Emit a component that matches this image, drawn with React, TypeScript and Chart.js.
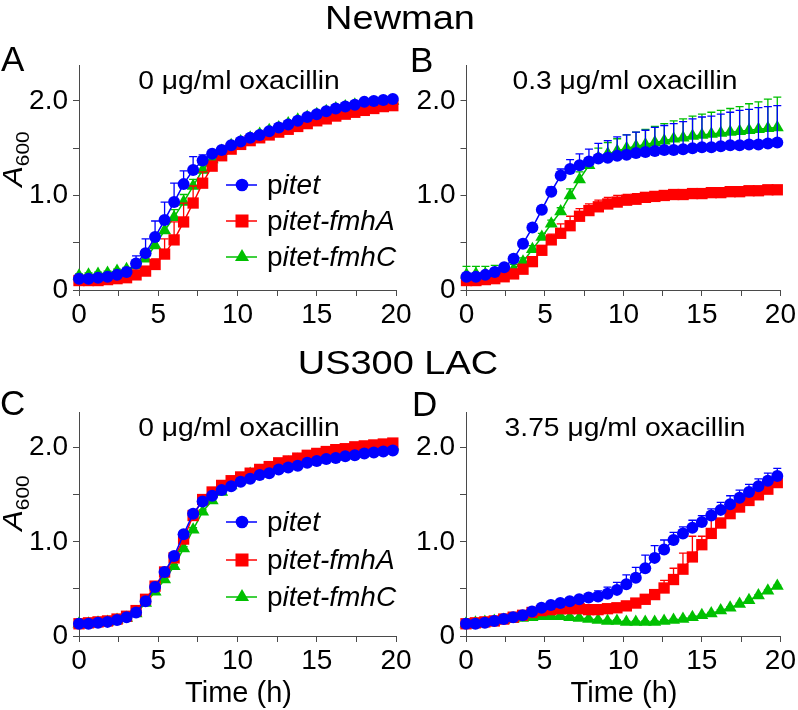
import React, { useEffect, useRef } from 'react';
import { Chart, registerables } from 'chart.js';

Chart.register(...registerables);

const FONT = '"Liberation Sans", Arial, Helvetica, sans-serif';
const BLUE = '#0000ff';
const RED = '#ff0000';
const GREEN = '#00c000';
const AXIS = '#4a4a4a';

// sampling times (h)
const TIMES = [0, 0.6, 1.2, 1.8, 2.4, 3.0, 3.6, 4.2, 4.8, 5.4, 6.0, 6.6, 7.2, 7.8, 8.4, 9.0, 9.6, 10.2, 10.8, 11.4, 12.0, 12.6, 13.2, 13.8, 14.4, 15.0, 15.6, 16.2, 16.8, 17.4, 18.0, 18.6, 19.2, 19.8];
const X_TICK_LABELS = [0, 5, 10, 15, 20];
const Y_TICK_LABELS = [0, 1, 2];
const Y_MAX = 2.38;
const SERIES_NAMES = ['pitet', 'pitet-fmhA', 'pitet-fmhC'];

// Panel A – Newman, 0 µg/ml
const A_PITET = [0.12, 0.12, 0.13, 0.14, 0.16, 0.19, 0.28, 0.39, 0.56, 0.74, 0.93, 1.12, 1.27, 1.37, 1.44, 1.48, 1.53, 1.57, 1.61, 1.64, 1.68, 1.72, 1.75, 1.79, 1.83, 1.86, 1.89, 1.92, 1.94, 1.96, 1.99, 2.00, 2.01, 2.02];
const A_PITET_ERR = [0.02, 0.02, 0.02, 0.02, 0.02, 0.03, 0.08, 0.15, 0.17, 0.19, 0.20, 0.14, 0.14, 0.06, 0.03, 0.03, 0.02, 0.02, 0.02, 0.02, 0.02, 0.02, 0.02, 0.02, 0.02, 0.02, 0.02, 0.02, 0.02, 0.02, 0.02, 0.02, 0.02, 0.02];
const A_FMHA = [0.10, 0.10, 0.10, 0.11, 0.12, 0.13, 0.16, 0.20, 0.27, 0.38, 0.53, 0.72, 0.92, 1.13, 1.31, 1.42, 1.49, 1.54, 1.58, 1.61, 1.64, 1.67, 1.70, 1.73, 1.76, 1.79, 1.81, 1.84, 1.86, 1.88, 1.90, 1.92, 1.94, 1.95];
const A_FMHA_ERR = [0.02, 0.02, 0.02, 0.02, 0.02, 0.02, 0.02, 0.03, 0.06, 0.16, 0.19, 0.20, 0.18, 0.12, 0.05, 0.02, 0.02, 0.02, 0.02, 0.02, 0.02, 0.02, 0.02, 0.02, 0.02, 0.02, 0.02, 0.02, 0.02, 0.02, 0.02, 0.02, 0.02, 0.02];
const A_FMHC = [0.15, 0.16, 0.17, 0.18, 0.20, 0.22, 0.26, 0.33, 0.47, 0.63, 0.77, 0.93, 1.10, 1.27, 1.38, 1.47, 1.53, 1.57, 1.61, 1.65, 1.69, 1.72, 1.76, 1.80, 1.83, 1.86, 1.89, 1.92, 1.94, 1.96, 1.97, 1.98, 1.99, 2.00];
const A_FMHC_ERR = [0.02, 0.02, 0.02, 0.02, 0.02, 0.02, 0.02, 0.03, 0.06, 0.07, 0.08, 0.08, 0.07, 0.05, 0.02, 0.02, 0.02, 0.02, 0.02, 0.02, 0.02, 0.02, 0.02, 0.02, 0.02, 0.02, 0.02, 0.02, 0.02, 0.02, 0.02, 0.02, 0.02, 0.02];

// Panel B – Newman, 0.3 µg/ml
const B_PITET = [0.14, 0.14, 0.16, 0.19, 0.24, 0.33, 0.49, 0.66, 0.85, 1.04, 1.21, 1.28, 1.32, 1.36, 1.39, 1.40, 1.42, 1.43, 1.45, 1.46, 1.47, 1.48, 1.48, 1.49, 1.50, 1.51, 1.51, 1.52, 1.53, 1.53, 1.54, 1.54, 1.55, 1.56];
const B_PITET_ERR = [0.03, 0.03, 0.03, 0.03, 0.03, 0.03, 0.03, 0.03, 0.03, 0.05, 0.07, 0.10, 0.12, 0.13, 0.16, 0.18, 0.20, 0.21, 0.22, 0.23, 0.25, 0.26, 0.28, 0.29, 0.31, 0.32, 0.33, 0.34, 0.35, 0.37, 0.37, 0.39, 0.39, 0.39];
const B_FMHA = [0.10, 0.10, 0.11, 0.12, 0.14, 0.17, 0.22, 0.30, 0.42, 0.53, 0.60, 0.68, 0.78, 0.84, 0.88, 0.91, 0.93, 0.95, 0.96, 0.98, 0.99, 1.00, 1.01, 1.01, 1.02, 1.02, 1.03, 1.03, 1.04, 1.04, 1.05, 1.05, 1.06, 1.06];
const B_FMHA_ERR = [0.02, 0.02, 0.02, 0.02, 0.02, 0.02, 0.02, 0.02, 0.04, 0.06, 0.10, 0.10, 0.08, 0.07, 0.07, 0.07, 0.07, 0.06, 0.06, 0.05, 0.04, 0.04, 0.04, 0.04, 0.04, 0.04, 0.04, 0.04, 0.04, 0.04, 0.04, 0.04, 0.04, 0.04];
const B_FMHC = [0.16, 0.17, 0.17, 0.18, 0.19, 0.22, 0.30, 0.43, 0.56, 0.70, 0.83, 1.00, 1.17, 1.32, 1.40, 1.44, 1.47, 1.50, 1.52, 1.54, 1.56, 1.58, 1.60, 1.61, 1.63, 1.64, 1.65, 1.66, 1.67, 1.68, 1.69, 1.70, 1.71, 1.72];
const B_FMHC_ERR = [0.09, 0.08, 0.08, 0.08, 0.07, 0.05, 0.04, 0.04, 0.04, 0.04, 0.04, 0.07, 0.08, 0.08, 0.10, 0.12, 0.13, 0.14, 0.15, 0.16, 0.17, 0.18, 0.19, 0.20, 0.21, 0.22, 0.23, 0.24, 0.25, 0.26, 0.28, 0.29, 0.31, 0.32];

// Panel C – US300 LAC, 0 µg/ml
const C_PITET = [0.13, 0.13, 0.14, 0.15, 0.17, 0.20, 0.25, 0.37, 0.52, 0.68, 0.85, 1.08, 1.30, 1.43, 1.49, 1.55, 1.59, 1.64, 1.67, 1.71, 1.73, 1.77, 1.79, 1.81, 1.84, 1.86, 1.88, 1.89, 1.91, 1.92, 1.94, 1.95, 1.96, 1.97];
const C_PITET_ERR = [0.02, 0.02, 0.02, 0.02, 0.02, 0.02, 0.02, 0.02, 0.02, 0.02, 0.02, 0.02, 0.02, 0.02, 0.02, 0.02, 0.02, 0.02, 0.02, 0.02, 0.02, 0.02, 0.02, 0.02, 0.02, 0.02, 0.02, 0.02, 0.02, 0.02, 0.02, 0.02, 0.02, 0.02];
const C_FMHA = [0.13, 0.14, 0.15, 0.16, 0.18, 0.21, 0.27, 0.39, 0.53, 0.68, 0.83, 1.03, 1.28, 1.45, 1.53, 1.60, 1.65, 1.69, 1.73, 1.77, 1.80, 1.84, 1.86, 1.89, 1.92, 1.94, 1.96, 1.98, 1.99, 2.01, 2.02, 2.03, 2.04, 2.05];
const C_FMHA_ERR = [0.02, 0.02, 0.02, 0.02, 0.02, 0.02, 0.02, 0.02, 0.02, 0.02, 0.02, 0.02, 0.02, 0.02, 0.02, 0.02, 0.02, 0.02, 0.02, 0.02, 0.02, 0.02, 0.02, 0.02, 0.02, 0.02, 0.02, 0.02, 0.02, 0.02, 0.02, 0.02, 0.02, 0.02];
const C_FMHC = [0.13, 0.13, 0.14, 0.15, 0.17, 0.19, 0.24, 0.35, 0.47, 0.60, 0.74, 0.93, 1.13, 1.32, 1.44, 1.53, 1.60, 1.66, 1.72, 1.75, 1.78, 1.81, 1.84, 1.87, 1.89, 1.91, 1.93, 1.95, 1.96, 1.98, 1.99, 2.00, 2.01, 2.02];
const C_FMHC_ERR = [0.02, 0.02, 0.02, 0.02, 0.02, 0.02, 0.02, 0.02, 0.02, 0.02, 0.02, 0.02, 0.02, 0.02, 0.02, 0.02, 0.02, 0.02, 0.02, 0.02, 0.02, 0.02, 0.02, 0.02, 0.02, 0.02, 0.02, 0.02, 0.02, 0.02, 0.02, 0.02, 0.02, 0.02];

// Panel D – US300 LAC, 3.75 µg/ml
const D_PITET = [0.13, 0.13, 0.14, 0.16, 0.18, 0.20, 0.22, 0.26, 0.30, 0.33, 0.35, 0.37, 0.39, 0.41, 0.42, 0.45, 0.49, 0.55, 0.62, 0.72, 0.83, 0.92, 1.02, 1.09, 1.15, 1.21, 1.28, 1.34, 1.40, 1.47, 1.53, 1.59, 1.65, 1.70];
const D_PITET_ERR = [0.02, 0.02, 0.02, 0.02, 0.02, 0.02, 0.02, 0.02, 0.02, 0.02, 0.02, 0.02, 0.02, 0.03, 0.06, 0.07, 0.08, 0.10, 0.11, 0.14, 0.13, 0.10, 0.08, 0.07, 0.08, 0.07, 0.07, 0.08, 0.09, 0.08, 0.08, 0.08, 0.08, 0.08];
const D_FMHA = [0.13, 0.14, 0.15, 0.16, 0.18, 0.20, 0.22, 0.25, 0.27, 0.28, 0.29, 0.29, 0.29, 0.28, 0.28, 0.29, 0.30, 0.32, 0.35, 0.39, 0.44, 0.51, 0.60, 0.71, 0.84, 0.97, 1.09, 1.20, 1.30, 1.37, 1.44, 1.50, 1.56, 1.63];
const D_FMHA_ERR = [0.02, 0.02, 0.02, 0.02, 0.02, 0.02, 0.02, 0.02, 0.02, 0.02, 0.02, 0.02, 0.02, 0.02, 0.02, 0.02, 0.02, 0.02, 0.02, 0.02, 0.04, 0.08, 0.12, 0.17, 0.22, 0.09, 0.15, 0.05, 0.03, 0.03, 0.03, 0.03, 0.03, 0.03];
const D_FMHC = [0.13, 0.14, 0.15, 0.16, 0.17, 0.18, 0.19, 0.20, 0.21, 0.21, 0.21, 0.20, 0.19, 0.18, 0.17, 0.16, 0.16, 0.15, 0.15, 0.15, 0.15, 0.16, 0.17, 0.18, 0.20, 0.22, 0.24, 0.27, 0.30, 0.34, 0.38, 0.43, 0.48, 0.53];
const D_FMHC_ERR = [0.01, 0.01, 0.01, 0.01, 0.01, 0.01, 0.01, 0.01, 0.01, 0.01, 0.01, 0.01, 0.01, 0.01, 0.01, 0.01, 0.01, 0.01, 0.01, 0.01, 0.01, 0.01, 0.01, 0.01, 0.01, 0.01, 0.01, 0.01, 0.01, 0.01, 0.01, 0.01, 0.01, 0.01];

type SeriesDef = { name: string; values: number[]; errors: number[]; color: string; style: string; radius: number };

const makeSeries = (v1: number[], e1: number[], v2: number[], e2: number[], v3: number[], e3: number[]): SeriesDef[] => [
  { name: SERIES_NAMES[0], values: v1, errors: e1, color: BLUE, style: 'circle', radius: 6 },
  { name: SERIES_NAMES[1], values: v2, errors: e2, color: RED, style: 'rect', radius: 8 },
  { name: SERIES_NAMES[2], values: v3, errors: e3, color: GREEN, style: 'triangle', radius: 7.5 },
];

const W = 798;
const H = 710;
const Y_AXIS_W = 60;
const X_AXIS_H = 45;

const PANELS = [
  { key: 'A', left: 79, right: 396, top: 65, bottom: 290, series: makeSeries(A_PITET, A_PITET_ERR, A_FMHA, A_FMHA_ERR, A_FMHC, A_FMHC_ERR) },
  { key: 'B', left: 466.5, right: 782, top: 65, bottom: 290, series: makeSeries(B_PITET, B_PITET_ERR, B_FMHA, B_FMHA_ERR, B_FMHC, B_FMHC_ERR) },
  { key: 'C', left: 79, right: 396, top: 412, bottom: 636, series: makeSeries(C_PITET, C_PITET_ERR, C_FMHA, C_FMHA_ERR, C_FMHC, C_FMHC_ERR) },
  { key: 'D', left: 466, right: 782.5, top: 412, bottom: 636, series: makeSeries(D_PITET, D_PITET_ERR, D_FMHA, D_FMHA_ERR, D_FMHC, D_FMHC_ERR) },
];

const errorBarPlugin = {
  id: 'errorBars',
  beforeDatasetDraw(chart: any, args: any) {
    const ds = chart.data.datasets[args.index];
    const errs: number[] | undefined = ds.errors;
    if (!errs) return;
    const yScale = chart.scales.y;
    const ctx = chart.ctx;
    ctx.save();
    ctx.strokeStyle = ds.borderColor;
    ctx.lineWidth = 1.3;
    args.meta.data.forEach((pt: any, i: number) => {
      const v = ds.data[i].y;
      const top = yScale.getPixelForValue(v + errs[i]);
      ctx.beginPath();
      ctx.moveTo(pt.x, pt.y);
      ctx.lineTo(pt.x, top);
      ctx.moveTo(pt.x - 4, top);
      ctx.lineTo(pt.x + 4, top);
      ctx.stroke();
    });
    ctx.restore();
  },
};

function PanelChart({ panel }: { panel: typeof PANELS[number] }) {
  const ref = useRef<HTMLCanvasElement>(null);
  useEffect(() => {
    const chart = new Chart(ref.current as HTMLCanvasElement, {
      type: 'line',
      data: {
        datasets: panel.series.map((s) => ({
          label: s.name,
          data: TIMES.map((t, i) => ({ x: t, y: s.values[i] })),
          errors: s.errors,
          borderColor: s.color,
          backgroundColor: s.color,
          pointBackgroundColor: s.color,
          pointBorderColor: s.color,
          pointBorderWidth: 0,
          pointStyle: s.style,
          pointRadius: s.radius,
          borderWidth: 1.5,
          tension: 0,
          clip: false,
        })) as any,
      },
      options: {
        responsive: false,
        animation: false,
        events: [],
        layout: {
          autoPadding: false,
          padding: {
            left: panel.left - Y_AXIS_W,
            right: W - panel.right,
            top: panel.top,
            bottom: H - panel.bottom - X_AXIS_H,
          },
        },
        plugins: { legend: { display: false }, tooltip: { enabled: false }, title: { display: false } },
        scales: {
          x: {
            type: 'linear',
            min: 0,
            max: 20,
            afterFit: (s: any) => { s.height = X_AXIS_H; },
            border: { display: true, color: AXIS, width: 1 },
            grid: { display: true, drawOnChartArea: false, drawTicks: true, tickLength: 6, color: AXIS, lineWidth: 1 },
            ticks: {
              stepSize: 2.5,
              autoSkip: false,
              maxRotation: 0,
              padding: 2,
              color: '#000',
              font: { family: FONT, size: 28 },
              callback: (v: any) => (X_TICK_LABELS.includes(Number(v)) ? String(v) : ''),
            },
          },
          y: {
            type: 'linear',
            min: 0,
            max: Y_MAX,
            afterFit: (s: any) => { s.width = Y_AXIS_W; },
            border: { display: true, color: AXIS, width: 1 },
            grid: { display: true, drawOnChartArea: false, drawTicks: true, tickLength: 6, color: AXIS, lineWidth: 1 },
            ticks: {
              stepSize: 0.5,
              includeBounds: false,
              autoSkip: false,
              padding: 5,
              color: '#000',
              font: { family: FONT, size: 28 },
              callback: (v: any) => {
                const n = Math.round(Number(v) * 100) / 100;
                if (n === 0) return '0';
                return Y_TICK_LABELS.includes(n) ? n.toFixed(1) : '';
              },
            },
          },
        },
      } as any,
      plugins: [errorBarPlugin],
    });
    return () => chart.destroy();
  }, []);
  return (
    <canvas
      ref={ref}
      width={W}
      height={H}
      style={{ position: 'absolute', left: 0, top: 0, width: W, height: H, pointerEvents: 'none' }}
    />
  );
}

const textBase: React.CSSProperties = { position: 'absolute', fontFamily: FONT, color: '#000', whiteSpace: 'nowrap' };

function Centered({ cx, top, size, scale, children }: any) {
  return (
    <div
      style={{
        ...textBase,
        left: cx - 250,
        width: 500,
        top,
        fontSize: size,
        lineHeight: `${size}px`,
        textAlign: 'center',
        transform: `scaleX(${scale})`,
        transformOrigin: 'center',
      }}
    >
      {children}
    </div>
  );
}

function LegendRow({ y, idx }: { y: number; idx: number }) {
  const color = [BLUE, RED, GREEN][idx];
  const marker =
    idx === 0 ? (
      <circle cx={22} cy={10} r={6.3} fill={color} />
    ) : idx === 1 ? (
      <rect x={15.5} y={3.5} width={13} height={13} fill={color} />
    ) : (
      <polygon points="22,2 29,14 15,14" fill={color} />
    );
  const name = SERIES_NAMES[idx];
  return (
    <>
      <svg width={40} height={20} style={{ position: 'absolute', left: 220, top: y - 10 }}>
        <line x1={6} y1={10} x2={37} y2={10} stroke={color} strokeWidth={1.5} />
        {marker}
      </svg>
      <div style={{ ...textBase, left: 267, top: y - 13.7, fontSize: 28, lineHeight: '28px' }}>
        {name.slice(0, 1)}
        <i>{name.slice(1)}</i>
      </div>
    </>
  );
}

function YLabel({ cy }: { cy: number }) {
  return (
    <div
      style={{
        ...textBase,
        left: 14,
        top: cy,
        fontSize: 28,
        lineHeight: '28px',
        transform: 'translate(-50%, -50%) rotate(-90deg) scaleX(1.1)',
      }}
    >
      <i>A</i>
      <span style={{ fontSize: 19, position: 'relative', top: 7 }}>600</span>
    </div>
  );
}

export default function App() {
  return (
    <div style={{ position: 'absolute', left: 0, top: 0, width: W, height: H, background: '#fff', overflow: 'hidden' }}>
      {PANELS.map((p) => (
        <PanelChart key={p.key} panel={p} />
      ))}

      <Centered cx={400} top={1} size={33} scale={1.15}>Newman</Centered>
      <Centered cx={398} top={346} size={33} scale={1.15}>US300 LAC</Centered>

      <div style={{ ...textBase, left: 1, top: 41, fontSize: 35, lineHeight: '35px' }}>A</div>
      <div style={{ ...textBase, left: 410, top: 42, fontSize: 35, lineHeight: '35px' }}>B</div>
      <div style={{ ...textBase, left: 0, top: 385, fontSize: 35, lineHeight: '35px' }}>C</div>
      <div style={{ ...textBase, left: 412, top: 386, fontSize: 35, lineHeight: '35px' }}>D</div>

      <Centered cx={238.5} top={68} size={25} scale={1.13}>0 μg/ml oxacillin</Centered>
      <Centered cx={625} top={68} size={25} scale={1.13}>0.3 μg/ml oxacillin</Centered>
      <Centered cx={238.5} top={415} size={25} scale={1.13}>0 μg/ml oxacillin</Centered>
      <Centered cx={625} top={415} size={25} scale={1.13}>3.75 μg/ml oxacillin</Centered>

      <YLabel cy={158.5} />
      <YLabel cy={502.5} />

      <LegendRow y={185} idx={0} />
      <LegendRow y={221} idx={1} />
      <LegendRow y={257} idx={2} />
      <LegendRow y={522} idx={0} />
      <LegendRow y={560} idx={1} />
      <LegendRow y={597} idx={2} />

      <Centered cx={238.5} top={678} size={29} scale={1}>Time (h)</Centered>
      <Centered cx={624} top={678} size={29} scale={1}>Time (h)</Centered>
    </div>
  );
}
